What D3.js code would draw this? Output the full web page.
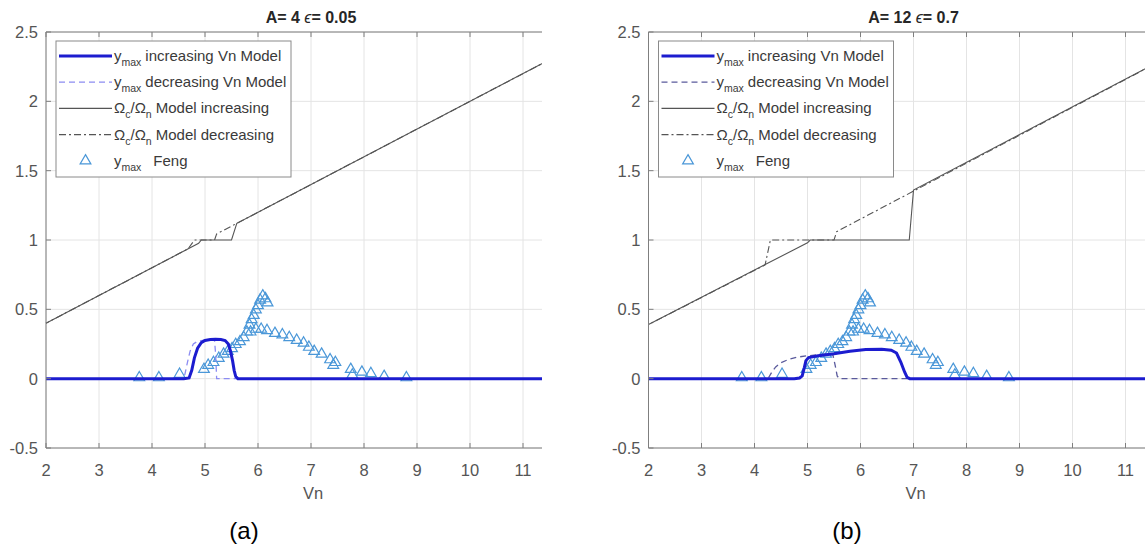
<!DOCTYPE html>
<html>
<head>
<meta charset="utf-8">
<script src="https://cdn.jsdelivr.net/npm/d3@7"></script>
<style>
  html, body { margin: 0; padding: 0; background: #fff; }
  svg { display: block; }
  text { font-family: "Liberation Sans", Arial, sans-serif; }
</style>
</head>
<body>
<svg id="chart" width="1145" height="546"></svg>
<script>
// ---------- data ----------
const xTicks = [2, 3, 4, 5, 6, 7, 8, 9, 10, 11];
const yTicks = [-0.5, 0, 0.5, 1, 1.5, 2, 2.5];
const yTickLabels = ["-0.5", "0", "0.5", "1", "1.5", "2", "2.5"];

const titlesA = { A: "4", eps: "0.05", tag: "(a)" };
const titlesB = { A: "12", eps: "0.7", tag: "(b)" };

// Panel (a): A = 4, eps = 0.05
const ymaxIncA = [[2,0],[4.6,0],[4.7,0.005],[4.75,0.06],[4.8,0.15],[4.86,0.22],[4.93,0.26],[5.0,0.275],[5.1,0.283],[5.2,0.285],[5.3,0.283],[5.38,0.275],[5.44,0.25],[5.48,0.2],[5.52,0.13],[5.55,0.06],[5.58,0.015],[5.62,0],[12,0]];
const ymaxDecA = [[2,0],[4.55,0],[4.62,0.03],[4.67,0.12],[4.72,0.2],[4.78,0.25],[4.86,0.27],[5.0,0.28],[5.1,0.282],[5.18,0.275],[5.2,0.18],[5.22,0.0],[12,0]];
const omegaIncA = [[2,0.4],[4.88,0.976],[4.93,1.0],[5.5,1.0],[5.6,1.12],[12,2.4]];
const omegaDecA = [[12,2.4],[5.22,1.044],[5.18,1.0],[4.8,1.0],[4.68,0.936],[2,0.4]];

// Panel (b): A = 12, eps = 0.7
const ymaxIncB = [[2,0],[4.75,0],[4.85,0.005],[4.9,0.02],[4.94,0.08],[4.97,0.13],[5.02,0.152],[5.2,0.165],[5.5,0.18],[5.8,0.198],[6.1,0.21],[6.4,0.212],[6.58,0.205],[6.68,0.185],[6.76,0.12],[6.83,0.05],[6.88,0.01],[6.93,0],[12,0]];
const ymaxDecB = [[2,0],[4.2,0],[4.27,0.01],[4.33,0.05],[4.4,0.085],[4.5,0.115],[4.65,0.14],[4.8,0.155],[5.0,0.165],[5.2,0.172],[5.42,0.178],[5.48,0.17],[5.52,0.1],[5.56,0.02],[5.6,0],[12,0]];
const omegaIncB = [[2,0.39],[5.0,0.98],[5.05,1.0],[6.92,1.0],[7.0,1.36],[12,2.36]];
const omegaDecB = [[12,2.36],[5.55,1.06],[5.5,1.0],[4.3,1.0],[4.2,0.82],[2,0.39]];

// Feng measurements (same in both panels)
const fengVn = [3.76,4.13,4.52,4.98,5.06,5.16,5.26,5.35,5.43,5.51,5.58,5.66,5.73,5.79,5.84,5.88,5.92,5.96,6.0,6.04,6.09,6.14,6.18,
                5.86,5.96,6.06,6.17,6.32,6.46,6.59,6.73,6.86,6.96,7.06,7.2,7.36,7.42,7.46,7.75,7.78,7.96,8.13,8.38,8.8];
const fengY  = [0.0,0.0,0.025,0.06,0.09,0.11,0.14,0.17,0.19,0.21,0.24,0.26,0.29,0.33,0.38,0.42,0.45,0.49,0.52,0.56,0.59,0.57,0.54,
                0.33,0.35,0.35,0.34,0.32,0.31,0.29,0.27,0.25,0.22,0.19,0.17,0.13,0.09,0.11,0.06,0.02,0.04,0.03,0.01,0.0];

const legendLabels = [
  { pre: "y", sub: "max", post: "increasing Vn Model" },
  { pre: "y", sub: "max", post: "decreasing Vn Model" },
  { pre: "Ω", sub: "c", mid: "/Ω", sub2: "n", post: "Model increasing" },
  { pre: "Ω", sub: "c", mid: "/Ω", sub2: "n", post: "Model decreasing" },
  { pre: "y", sub: "max", post: "Feng" }
];

// ---------- styles ----------
const colIncY = "#1c1ccf";
const colOmega = "#555555";
const colFeng = "#4a97d8";

const svg = d3.select("#chart");

function drawPanel(cfg) {
  const x = d3.scaleLinear().domain([2, 12]).range([cfg.x0, cfg.x0 + 530]);
  const y = d3.scaleLinear().domain([-0.5, 2.5]).range([448, 32]);
  const g = svg.append("g");
  const clipId = "clip" + cfg.id;
  g.append("clipPath").attr("id", clipId).append("rect")
    .attr("x", cfg.x0 - 1).attr("y", 20).attr("width", cfg.clipRight - cfg.x0 + 1).attr("height", 440);
  const body = g.append("g").attr("clip-path", `url(#${clipId})`);

  // grid
  body.selectAll(".gx").data(xTicks).join("line")
    .attr("x1", d => x(d)).attr("x2", d => x(d)).attr("y1", y(2.5)).attr("y2", y(-0.5))
    .attr("stroke", "#e4e4e4").attr("stroke-width", 1);
  body.selectAll(".gy").data(yTicks).join("line")
    .attr("x1", x(2)).attr("x2", x(12)).attr("y1", d => y(d)).attr("y2", d => y(d))
    .attr("stroke", "#e4e4e4").attr("stroke-width", 1);

  const line = d3.line().x(d => x(d[0])).y(d => y(d[1]));

  // omega lines
  body.append("path").attr("d", line(cfg.omegaInc)).attr("fill", "none")
    .attr("stroke", colOmega).attr("stroke-width", 1.1);
  body.append("path").attr("d", line(cfg.omegaDec)).attr("fill", "none")
    .attr("stroke", colOmega).attr("stroke-width", 1.1).attr("stroke-dasharray", "7,3,2,3");

  // Feng triangles
  const tri = d3.symbol().type(d3.symbolTriangle).size(50);
  body.selectAll(".feng").data(fengVn.map((v, i) => [v, fengY[i]])).join("path")
    .attr("d", tri).attr("transform", d => `translate(${x(d[0])},${y(d[1]) - 1})`)
    .attr("fill", "none").attr("stroke", colFeng).attr("stroke-width", 1.2);

  // ymax lines
  body.append("path").attr("d", line(cfg.ymaxDec)).attr("fill", "none")
    .attr("stroke", cfg.decColor).attr("stroke-width", 1.3).attr("stroke-dasharray", "6,4");
  body.append("path").attr("d", line(cfg.ymaxInc)).attr("fill", "none")
    .attr("stroke", colIncY).attr("stroke-width", 3);

  // axes box (left, bottom, top)
  const axCol = "#7f7f7f";
  const right = Math.min(cfg.clipRight, x(12));
  g.append("line").attr("x1", x(2)).attr("x2", right).attr("y1", y(-0.5)).attr("y2", y(-0.5)).attr("stroke", axCol);
  g.append("line").attr("x1", x(2)).attr("x2", right).attr("y1", y(2.5)).attr("y2", y(2.5)).attr("stroke", axCol);
  g.append("line").attr("x1", x(2)).attr("x2", x(2)).attr("y1", y(2.5)).attr("y2", y(-0.5)).attr("stroke", axCol);
  // tick marks
  g.selectAll(".tb").data(xTicks).join("line")
    .attr("x1", d => x(d)).attr("x2", d => x(d)).attr("y1", y(-0.5)).attr("y2", y(-0.5) - 5).attr("stroke", axCol);
  g.selectAll(".tt").data(xTicks).join("line")
    .attr("x1", d => x(d)).attr("x2", d => x(d)).attr("y1", y(2.5)).attr("y2", y(2.5) + 5).attr("stroke", axCol);
  g.selectAll(".tl").data(yTicks).join("line")
    .attr("x1", x(2)).attr("x2", x(2) + 5).attr("y1", d => y(d)).attr("y2", d => y(d)).attr("stroke", axCol);

  // tick labels
  g.selectAll(".xl").data(xTicks).join("text")
    .attr("x", d => x(d)).attr("y", 476).attr("text-anchor", "middle")
    .attr("font-size", 16.5).attr("fill", "#555").text(d => d);
  g.selectAll(".yl").data(yTicks).join("text")
    .attr("x", x(2) - 8).attr("y", d => y(d) + 6).attr("text-anchor", "end")
    .attr("font-size", 16.5).attr("fill", "#555").text((d, i) => yTickLabels[i]);

  // axis label
  g.append("text").attr("x", x(7) + 2).attr("y", 499).attr("text-anchor", "middle")
    .attr("font-size", 16.5).attr("fill", "#555").text("Vn");

  // title
  const t = g.append("text").attr("x", x(7)).attr("y", 23).attr("text-anchor", "middle")
    .attr("font-size", 16).attr("font-weight", "bold").attr("fill", "#262626");
  t.append("tspan").text("A= " + cfg.titles.A + " ");
  t.append("tspan").attr("font-style", "italic").attr("font-weight", "normal").text("ϵ");
  t.append("tspan").text("= " + cfg.titles.eps);

  // panel tag
  g.append("text").attr("x", cfg.tagX).attr("y", 539).attr("text-anchor", "middle")
    .attr("font-family", "Lato, 'Open Sans', sans-serif")
    .attr("font-size", 24).attr("fill", "#000").text(cfg.titles.tag);

  // legend
  const lx = x(2) + 10, ly = 41, lw = 235, lh = 136;
  const lg = g.append("g");
  lg.append("rect").attr("x", lx).attr("y", ly).attr("width", lw).attr("height", lh)
    .attr("fill", "#fff").attr("stroke", "#8a8a8a").attr("stroke-width", 1);
  const rowY = i => ly + 15 + i * 26.2;
  const s0 = lx + 3, s1 = lx + 56;
  const styles = [
    { stroke: colIncY, w: 3, dash: null },
    { stroke: cfg.decColor, w: 1.3, dash: "6,4" },
    { stroke: colOmega, w: 1.1, dash: null },
    { stroke: colOmega, w: 1.1, dash: "7,3,2,3" }
  ];
  styles.forEach((s, i) => {
    lg.append("line").attr("x1", s0).attr("x2", s1).attr("y1", rowY(i)).attr("y2", rowY(i))
      .attr("stroke", s.stroke).attr("stroke-width", s.w).attr("stroke-dasharray", s.dash);
  });
  lg.append("path").attr("d", tri).attr("transform", `translate(${(s0 + s1) / 2},${rowY(4)})`)
    .attr("fill", "none").attr("stroke", colFeng).attr("stroke-width", 1.2);
  legendLabels.forEach((L, i) => {
    const tx = lg.append("text").attr("x", s1 + 2).attr("y", rowY(i) + 5)
      .attr("font-size", 15).attr("fill", "#3a3a3a");
    tx.append("tspan").text(L.pre);
    tx.append("tspan").attr("dy", 5).attr("font-size", 10.5).text(L.sub);
    if (L.mid) {
      tx.append("tspan").attr("dy", -5).text(L.mid);
      tx.append("tspan").attr("dy", 5).attr("font-size", 10.5).text(L.sub2);
    }
    tx.append("tspan").attr("dy", -5).attr("dx", i === 4 ? 12 : 4).text(L.post);
  });
}

drawPanel({ id: "a", x0: 46, clipRight: 542, titles: titlesA, tagX: 244,
  ymaxInc: ymaxIncA, ymaxDec: ymaxDecA, omegaInc: omegaIncA, omegaDec: omegaDecA, decColor: "#8c8cf2" });
drawPanel({ id: "b", x0: 648.5, clipRight: 1145, titles: titlesB, tagX: 847,
  ymaxInc: ymaxIncB, ymaxDec: ymaxDecB, omegaInc: omegaIncB, omegaDec: omegaDecB, decColor: "#5a5a9c" });
</script>
</body>
</html>
